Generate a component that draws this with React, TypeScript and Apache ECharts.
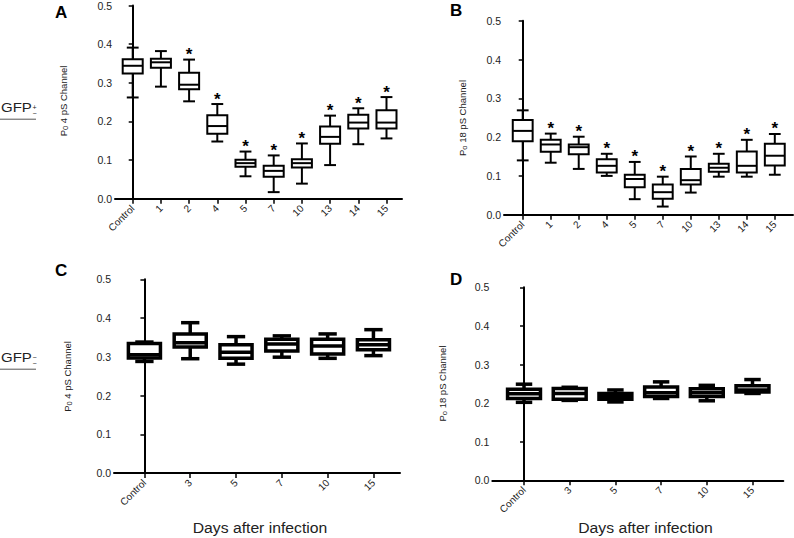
import React, { useEffect, useRef } from "react";
import * as echarts from "echarts";

const FONT = "'Liberation Sans', Arial, Helvetica, sans-serif";

// Categories (days after infection)
const daysAB = ["Control", "1", "2", "4", "5", "7", "10", "13", "14", "15"];
const daysCD = ["Control", "3", "5", "7", "10", "15"];
const yTicks = [0, 0.1, 0.2, 0.3, 0.4, 0.5];

// Box values: [min, q1, median, q3, max]
const boxA = [
  [0.262, 0.324, 0.344, 0.361, 0.391],
  [0.29, 0.339, 0.353, 0.362, 0.382],
  [0.252, 0.283, 0.295, 0.326, 0.36],
  [0.148, 0.168, 0.188, 0.216, 0.245],
  [0.058, 0.083, 0.092, 0.101, 0.122],
  [0.017, 0.057, 0.072, 0.085, 0.112],
  [0.039, 0.081, 0.092, 0.102, 0.143],
  [0.087, 0.142, 0.16, 0.187, 0.215],
  [0.141, 0.182, 0.197, 0.217, 0.234],
  [0.156, 0.182, 0.197, 0.229, 0.263],
];
const starsA = [false, false, true, true, true, true, true, true, true, true];

const boxB = [
  [0.14, 0.189, 0.216, 0.244, 0.269],
  [0.134, 0.162, 0.181, 0.193, 0.209],
  [0.118, 0.156, 0.174, 0.181, 0.201],
  [0.1, 0.109, 0.126, 0.143, 0.157],
  [0.04, 0.071, 0.092, 0.103, 0.136],
  [0.021, 0.041, 0.058, 0.078, 0.098],
  [0.057, 0.078, 0.089, 0.118, 0.15],
  [0.098, 0.111, 0.121, 0.131, 0.157],
  [0.098, 0.109, 0.126, 0.163, 0.193],
  [0.103, 0.127, 0.152, 0.183, 0.208],
];
const starsB = [false, true, true, true, true, true, true, true, true, true];

const boxC = [
  [0.288, 0.297, 0.305, 0.334, 0.338],
  [0.295, 0.325, 0.336, 0.359, 0.388],
  [0.281, 0.296, 0.312, 0.331, 0.352],
  [0.299, 0.315, 0.333, 0.345, 0.354],
  [0.296, 0.307, 0.328, 0.345, 0.359],
  [0.303, 0.318, 0.331, 0.344, 0.37],
];
const boxD = [
  [0.202, 0.212, 0.224, 0.236, 0.249],
  [0.207, 0.21, 0.225, 0.238, 0.241],
  [0.203, 0.21, 0.218, 0.225, 0.234],
  [0.212, 0.217, 0.227, 0.242, 0.255],
  [0.206, 0.217, 0.227, 0.237, 0.246],
  [0.225, 0.229, 0.234, 0.245, 0.261],
];
const noStars = [false, false, false, false, false, false];

function boxSeries(idx: number, boxes: number[][], stars: boolean[], lw: number, boxFrac: number, capFrac: number) {
  return {
    type: "custom",
    xAxisIndex: idx,
    yAxisIndex: idx,
    data: boxes.map((b, i) => [i, ...b]),
    encode: { x: 0, y: [1, 2, 3, 4, 5] },
    renderItem: (params: any, api: any) => {
      const i = api.value(0);
      const pMin = api.coord([i, api.value(1)]);
      const pQ1 = api.coord([i, api.value(2)]);
      const pMed = api.coord([i, api.value(3)]);
      const pQ3 = api.coord([i, api.value(4)]);
      const pMax = api.coord([i, api.value(5)]);
      const unit = api.size([1, 0])[0];
      const x = pMed[0];
      const hw = unit * boxFrac;
      const cw = unit * capFrac;
      const st = { stroke: "#000", lineWidth: lw, fill: null };
      const children: any[] = [
        { type: "line", shape: { x1: x, y1: pMax[1], x2: x, y2: pQ3[1] }, style: st },
        { type: "line", shape: { x1: x, y1: pQ1[1], x2: x, y2: pMin[1] }, style: st },
        { type: "line", shape: { x1: x - cw, y1: pMax[1], x2: x + cw, y2: pMax[1] }, style: st },
        { type: "line", shape: { x1: x - cw, y1: pMin[1], x2: x + cw, y2: pMin[1] }, style: st },
        {
          type: "rect",
          shape: { x: x - hw, y: pQ3[1], width: 2 * hw, height: pQ1[1] - pQ3[1] },
          style: { stroke: "#000", lineWidth: lw, fill: "#fff" },
        },
        { type: "line", shape: { x1: x - hw, y1: pMed[1], x2: x + hw, y2: pMed[1] }, style: st },
      ];
      if (stars[params.dataIndex]) {
        children.push({
          type: "text",
          x: x,
          y: pMax[1] - 5,
          style: {
            text: "*",
            fontSize: 17,
            fontWeight: "bold",
            fontFamily: FONT,
            fill: "#000",
            align: "center",
            verticalAlign: "middle",
          },
        });
      }
      return { type: "group", children };
    },
  };
}

function xAxisDef(idx: number, cats: string[], min: number, max: number) {
  const vals = cats.map((_, i) => i);
  return {
    type: "value",
    gridIndex: idx,
    min,
    max,
    splitLine: { show: false },
    axisLine: { show: true, onZero: false, lineStyle: { color: "#000", width: 2 } },
    axisTick: { show: true, customValues: vals, length: 5, lineStyle: { color: "#000", width: 1.5 } },
    axisLabel: {
      customValues: vals,
      formatter: (v: number) => cats[Math.round(v)] ?? "",
      rotate: 45,
      fontSize: 10,
      margin: 8,
      color: "#222",
      fontFamily: FONT,
    },
  };
}

function yAxisDef(idx: number) {
  return {
    type: "value",
    gridIndex: idx,
    min: yTicks[0],
    max: yTicks[yTicks.length - 1],
    interval: 0.1,
    splitLine: { show: false },
    axisLine: { show: true, lineStyle: { color: "#000", width: 2 } },
    axisTick: { show: true, length: 4, lineStyle: { color: "#000", width: 1.5 } },
    axisLabel: {
      formatter: (v: number) => v.toFixed(1),
      fontSize: 10.5,
      margin: 3,
      color: "#222",
      fontFamily: FONT,
    },
  };
}

function yName(x: number, y: number, sub: string, rest: string) {
  return {
    type: "text",
    x,
    y,
    rotation: Math.PI / 2,
    style: {
      text: `{m|P}{s|${sub}}{m| ${rest}}`,
      align: "center",
      verticalAlign: "middle",
      fill: "#222",
      rich: {
        m: { fontSize: 9.5, fontFamily: FONT, lineHeight: 13, fill: "#222", verticalAlign: "middle" },
        s: { fontSize: 7.5, fontFamily: FONT, lineHeight: 9, fill: "#222", verticalAlign: "bottom" },
      },
    },
  };
}

function letter(x: number, y: number, t: string) {
  return {
    type: "text",
    x,
    y,
    style: { text: t, fontSize: 17, fontWeight: 900, fontFamily: FONT, fill: "#000", align: "left", verticalAlign: "top" },
  };
}

function gfp(yc: number, sup: string, sub: string) {
  return [
    { type: "text", x: 1, y: yc, scaleX: 1.2, style: { text: "GFP", fontSize: 12.5, fontFamily: FONT, fill: "#222", align: "left", verticalAlign: "middle" } },
    { type: "text", x: 32.5, y: yc - 0.5, style: { text: sup, fontSize: 7, fontFamily: FONT, fill: "#222", align: "left", verticalAlign: "middle" } },
    { type: "text", x: 32.5, y: yc + 5, style: { text: sub, fontSize: 7, fontFamily: FONT, fill: "#222", align: "left", verticalAlign: "middle" } },
    { type: "line", shape: { x1: 0, y1: yc + 11, x2: 36, y2: yc + 11 }, style: { stroke: "#555", lineWidth: 1 } },
  ];
}

function daysLabel(x: number) {
  return {
    type: "text",
    x,
    y: 528,
    scaleX: 1.05,
    style: { text: "Days after infection", fontSize: 15, fontFamily: FONT, fill: "#222", align: "center", verticalAlign: "middle" },
  };
}

export default function App() {
  const ref = useRef<HTMLDivElement>(null);
  useEffect(() => {
    if (!ref.current) return;
    const chart = echarts.init(ref.current, null, { renderer: "svg" });
    chart.setOption({
      animation: false,
      backgroundColor: "#fff",
      grid: [
        { left: 115, top: 5, width: 287, height: 193.7 },
        { left: 504, top: 20.7, width: 289, height: 194 },
        { left: 114, top: 279.3, width: 286, height: 193.7 },
        { left: 492.3, top: 287.3, width: 291, height: 193 },
      ],
      xAxis: [
        xAxisDef(0, daysAB, -0.628, 9.55),
        xAxisDef(1, daysAB, -0.668, 9.65),
        xAxisDef(2, daysCD, -0.664, 5.58),
        xAxisDef(3, daysCD, -0.694, 5.674),
      ],
      yAxis: [yAxisDef(0), yAxisDef(1), yAxisDef(2), yAxisDef(3)],
      series: [
        boxSeries(0, boxA, starsA, 2, 0.355, 0.21),
        boxSeries(1, boxB, starsB, 2, 0.355, 0.21),
        boxSeries(2, boxC, noStars, 3.5, 0.35, 0.2),
        boxSeries(3, boxD, noStars, 3.5, 0.36, 0.18),
      ],
      graphic: [
        letter(55, 4, "A"),
        letter(450, 2, "B"),
        letter(55, 262, "C"),
        letter(450, 271, "D"),
        ...gfp(108.2, "+", "\u2212"),
        ...gfp(358.2, "\u2212", "\u2212"),
        yName(63, 101, "0", "4 pS Channel"),
        yName(462, 118, "o", "18 pS Channel"),
        yName(67, 376.5, "0", "4 pS Channel"),
        yName(442, 383.5, "o", "18 pS Channel"),
        daysLabel(260),
        daysLabel(645.5),
      ],
    });
    return () => chart.dispose();
  }, []);
  return <div ref={ref} style={{ position: "absolute", left: 0, top: 0, width: 794, height: 538 }} />;
}
